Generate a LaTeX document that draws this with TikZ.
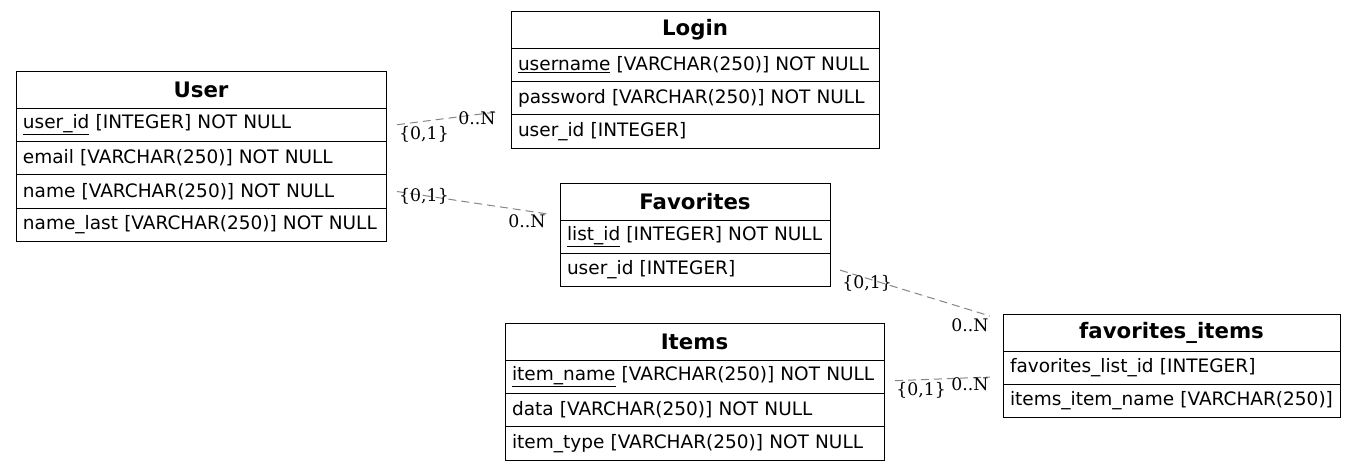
\documentclass[tikz,border=0pt]{standalone}
\usepackage{fontspec}
\setmainfont{DejaVu Sans}
\newfontfamily\cardfont{DejaVu Serif}
\usetikzlibrary{positioning}

\tikzset{
  tblhead/.style={draw, line width=1pt, anchor=north west, outer sep=0pt,
    inner xsep=7pt, inner ysep=0pt, minimum height=37pt, text width=#1,
    align=center, font=\fontsize{21.3}{25}\selectfont\bfseries},
  tblrow/.style={draw, line width=1pt, outer sep=0pt, inner xsep=7pt,
    inner ysep=0pt, minimum height=33.4pt, text width=#1, align=left,
    font=\fontsize{18.5}{22}\selectfont,
    execute at begin node={\hbox\bgroup}, execute at end node={\egroup}},
  rel/.style={draw=black!48, line width=1pt, dash pattern=on 8pt off 5pt},
  card/.style={inner sep=0pt, font=\cardfont\fontsize{17.3}{20}\selectfont}
}
\newcommand\keyfld[1]{\underline{#1}}

\begin{document}
\begin{tikzpicture}[x=1pt,y=-1pt]
  \useasboundingbox (0,0) rectangle (1356,471);

  % User
  \node[tblhead=356pt] (user) at (16,71) {User};
  \node[tblrow=356pt, below=0pt of user] (uid) {\keyfld{user\_id} [INTEGER] NOT NULL};
  \node[tblrow=356pt, below=0pt of uid] (umail) {email [VARCHAR(250)] NOT NULL};
  \node[tblrow=356pt, below=0pt of umail] (uname) {name [VARCHAR(250)] NOT NULL};
  \node[tblrow=356pt, below=0pt of uname] (ulast) {name\_last [VARCHAR(250)] NOT NULL};

  % Login
  \node[tblhead=354pt] (login) at (511,11) {Login};
  \node[tblrow=354pt, below=0pt of login] (lname) {\keyfld{username} [VARCHAR(250)] NOT NULL};
  \node[tblrow=354pt, below=0pt of lname] (lpass) {password [VARCHAR(250)] NOT NULL};
  \node[tblrow=354pt, below=0pt of lpass] (luid) {user\_id [INTEGER]};

  % Favorites
  \node[tblhead=256pt] (fav) at (560,183) {Favorites};
  \node[tblrow=256pt, below=0pt of fav] (flist) {\keyfld{list\_id} [INTEGER] NOT NULL};
  \node[tblrow=256pt, below=0pt of flist] (fuid) {user\_id [INTEGER]};

  % Items
  \node[tblhead=365pt] (items) at (505,323) {Items};
  \node[tblrow=365pt, below=0pt of items] (iname) {\keyfld{item\_name} [VARCHAR(250)] NOT NULL};
  \node[tblrow=365pt, below=0pt of iname] (idata) {data [VARCHAR(250)] NOT NULL};
  \node[tblrow=365pt, below=0pt of idata] (itype) {item\_type [VARCHAR(250)] NOT NULL};

  % favorites_items
  \node[tblhead=323pt] (favit) at (1003,314) {favorites\_items};
  \node[tblrow=323pt, below=0pt of favit] (filist) {favorites\_list\_id [INTEGER]};
  \node[tblrow=323pt, below=0pt of filist] (finame) {items\_item\_name [VARCHAR(250)]};

  % ends of the relations
  \coordinate (loginin) at (497,112);
  \coordinate (favin) at (548,214);
  \coordinate (favitin) at (990,316);
  \coordinate (favitin2) at (990,377);

  \draw[rel] ([xshift=11pt]uid.east) -- (loginin);
  \draw[rel] ([xshift=11pt]uname.east) -- (favin);
  \draw[rel] ([xshift=10pt]fuid.east) -- (favitin);
  \draw[rel] ([xshift=11pt,yshift=-4pt]iname.east) -- (favitin2);

  \node[card] (c1a) at (424,134) {\{0,1\}};
  \node[card] (c1b) at (477,118) {0..N};
  \node[card] (c2a) at (424,196) {\{0,1\}};
  \node[card] (c2b) at (527,221) {0..N};
  \node[card] (c3a) at (867,283) {\{0,1\}};
  \node[card] (c3b) at (970,325) {0..N};
  \node[card] (c4a) at (921,390) {\{0,1\}};
  \node[card] (c4b) at (970,384) {0..N};
\end{tikzpicture}
\end{document}
